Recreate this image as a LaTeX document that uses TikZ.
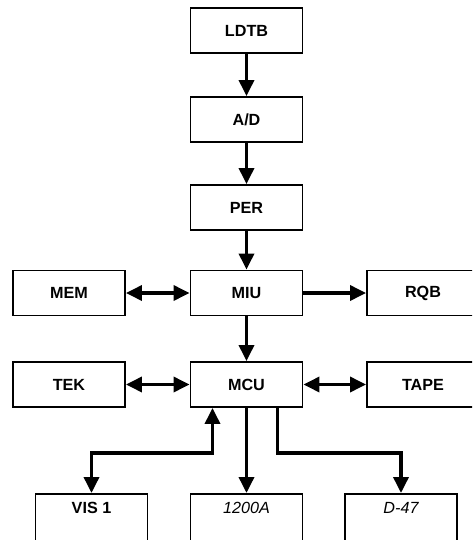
\documentclass[tikz,border=0pt]{standalone}
\usepackage{fontspec}
\setmainfont{Liberation Sans}
\usetikzlibrary{arrows.meta}

\begin{document}
\begin{tikzpicture}[
    font=\fontsize{9.2}{11}\selectfont\bfseries,
    x=0.2mm, y=-0.2mm,
    block/.style={
        draw=black,
        line width=1.1pt,
        fill=white,
        minimum width=2.24cm,
        minimum height=0.9cm,
        inner sep=2pt
    },
    sink/.style={
        block,
        anchor=north,
        text height=1.75ex,
        text depth=1.2cm,
        inner ysep=0.06cm
    },
    arrow/.style={
        -{Triangle[length=0.32cm, width=0.3cm]},
        line width=2pt
    },
    biarrow/.style={
        {Triangle[length=0.32cm, width=0.3cm]}-{Triangle[length=0.32cm, width=0.3cm]},
        line width=2pt
    }
]

% ---------------------------------------------------------
% Canvas
% ---------------------------------------------------------
\path[use as bounding box] (0,0) rectangle (472,540);
\clip (0,0) rectangle (472,540);

% ---------------------------------------------------------
% Input chain
% ---------------------------------------------------------
\node[block] (ldtb) at (246.5,30.5)  {LDTB};
\node[block] (ad)   at (246.5,119.5) {A/D};
\node[block] (per)  at (246.5,207.5) {PER};

\draw[arrow] (ldtb.south) -- (ad.north);
\draw[arrow] (ad.south) -- (per.north);

% ---------------------------------------------------------
% Interface and control units
% ---------------------------------------------------------
\node[block] (miu)  at (246.5,293)   {MIU};
\node[block] (mem)  at (69,293)      {MEM};
\node[block] (rqb)  at (423,293)     {RQB};

\node[block] (mcu)  at (246.5,384.5) {MCU};
\node[block] (tek)  at (69,384.5)    {TEK};
\node[block] (tape) at (423,384.5)   {TAPE};

\draw[arrow] (per.south) -- (miu.north);
\draw[arrow] (miu.south) -- (mcu.north);

\draw[biarrow] (mem.east) -- (miu.west);
\draw[arrow] (miu.east) -- (rqb.west);
\draw[biarrow] (tek.east) -- (mcu.west);
\draw[biarrow] (mcu.east) -- (tape.west);

% ---------------------------------------------------------
% Output devices
% ---------------------------------------------------------
\node[sink] (vis)   at (91.5,493)  {VIS 1};
\node[sink] (r1200) at (246.5,493) {\mdseries\itshape 1200A};
\node[sink] (d47)   at (401,493)   {\mdseries\itshape D-47};

\draw[biarrow] ([xshift=-0.68cm]mcu.south) -- ++(0,45) -| (vis.north);
\draw[arrow] (mcu.south) -- (r1200.north);
\draw[arrow] ([xshift=0.62cm]mcu.south) -- ++(0,45) -| (d47.north);

\end{tikzpicture}
\end{document}
